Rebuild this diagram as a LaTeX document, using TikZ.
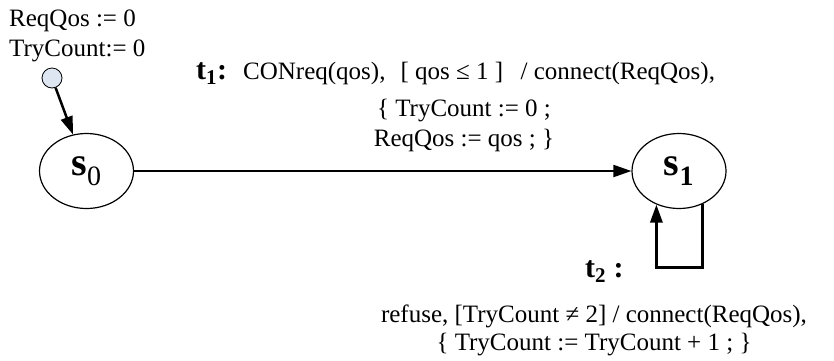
\documentclass[tikz,border=0pt]{standalone}
\usepackage{fontspec}
\setmainfont{Liberation Serif}
\usepackage{tikz}
\usetikzlibrary{positioning}
\usetikzlibrary{shapes.geometric}
\usetikzlibrary{arrows.meta}
\definecolor{initfill}{RGB}{222,230,242}

\begin{document}
\begin{tikzpicture}[x=1pt, y=-1pt,
  every node/.style={font=\fontsize{25}{29}\selectfont, inner sep=0pt},
  state/.style={ellipse, draw, line width=1.2pt, minimum width=94pt, minimum height=75pt, font=\fontsize{40}{44}\selectfont\bfseries},
  tname/.style={font=\fontsize{30}{34}\selectfont\bfseries},
  arr/.style={-{Triangle[length=18pt,width=12pt]}}]
\useasboundingbox (0,0) rectangle (834,360);

% States
\node [circle, draw, fill=initfill, minimum size=20pt, line width=0.8pt] (init) at (52,78) {};
\node [state] (s0) at (86.5,171) {s\textsubscript{\mdseries 0}};
\node [state] (s1) at (679,171) {s\textsubscript{1}};

% Initial values
\node [anchor=base west] (initA) at (9,26) {ReqQos := 0};
\node [below=30pt of initA.base west, anchor=base west] (initB) {TryCount:= 0};

% Transition t1
\node [tname, anchor=base west] (t1) at (196,79) {t\textsubscript{1}:};
\node [anchor=base west] (t1a) at (243,79) {CONreq(qos),\hspace{0.6em}[ qos ≤ 1 ]\hspace{0.7em}/ connect(ReqQos),};
\node [anchor=base] (t1b) at (464,116) {\{ TryCount := 0 ;};
\node [below=30pt of t1b.base, anchor=base] (t1c) {ReqQos := qos ; \}};

% Transition t2
\node [tname, anchor=base west] (t2) at (585,277) {t\textsubscript{2} :};
\node [anchor=base] (t2a) at (594,322) {refuse, [TryCount ≠ 2] / connect(ReqQos),};
\node [below=28pt of t2a.base, anchor=base] (t2b) {\{ TryCount := TryCount + 1 ; \}};

% Connections
\draw [arr, line width=2.5pt] (init) -- (s0);
\draw [arr, line width=2pt] (s0) -- (s1);
\draw [arr, line width=3pt] (s1.-55) -- ++(0,63) -| (s1.-124);

\end{tikzpicture}
\end{document}
